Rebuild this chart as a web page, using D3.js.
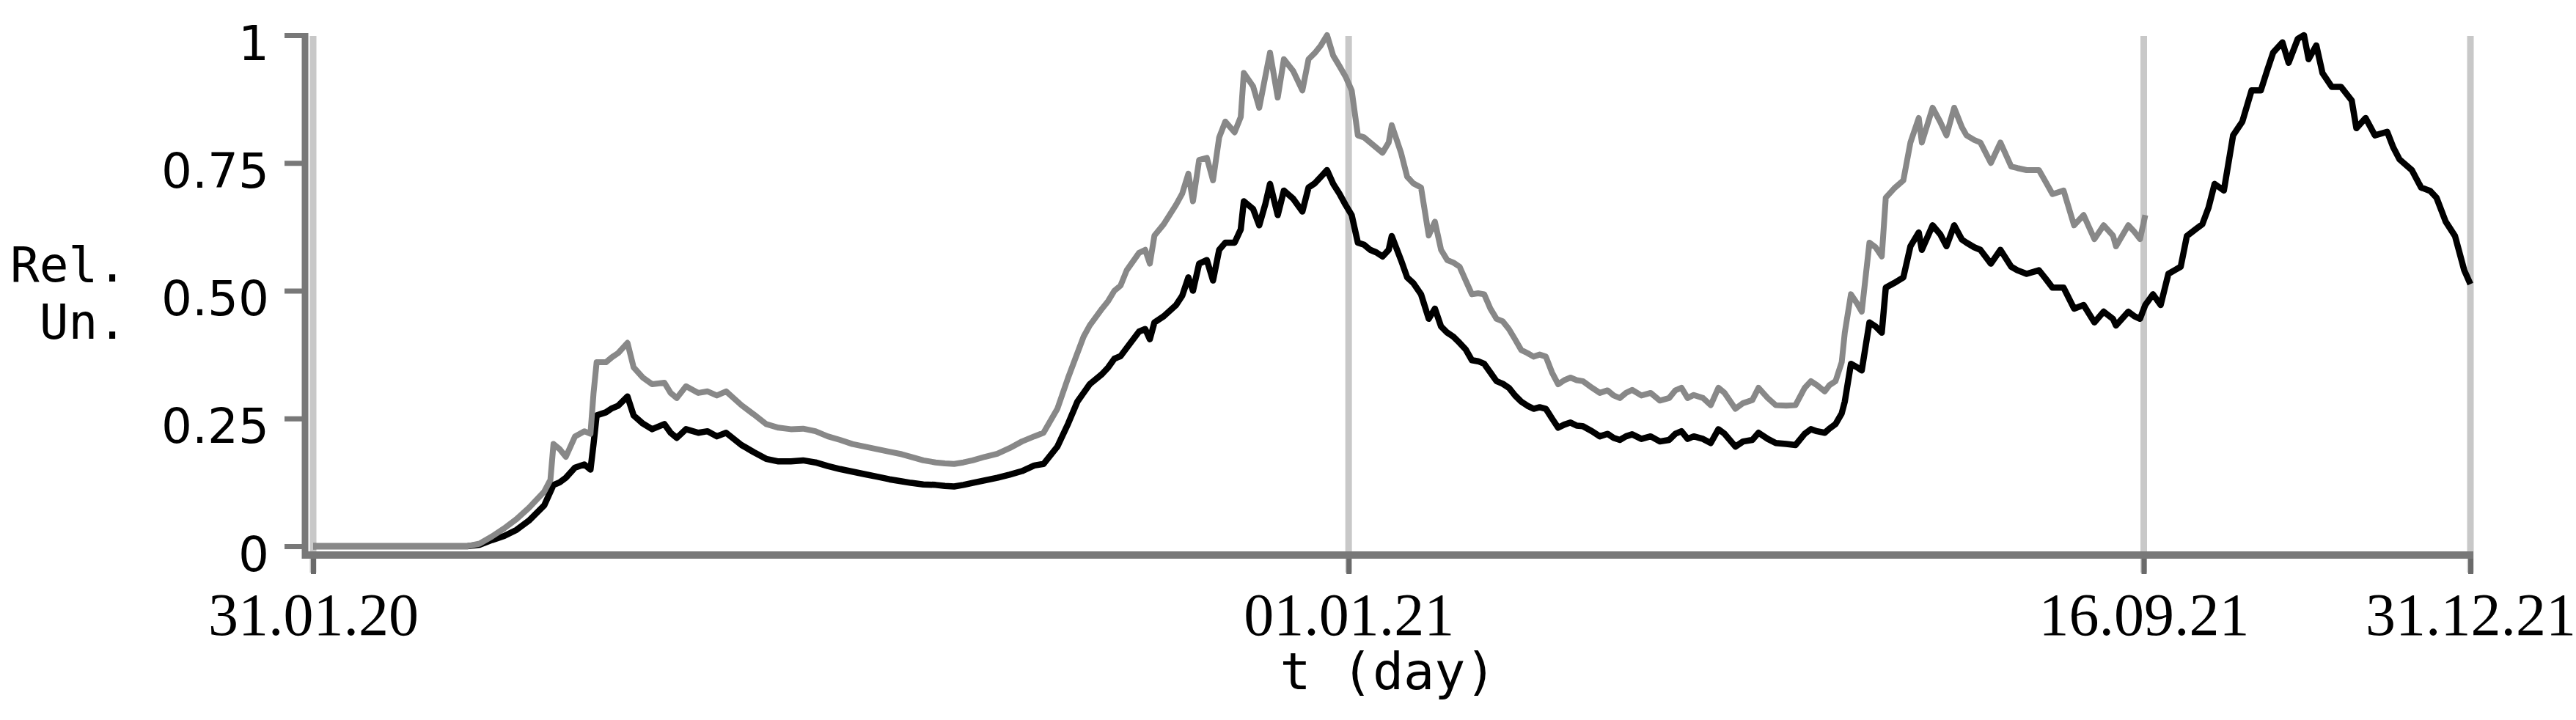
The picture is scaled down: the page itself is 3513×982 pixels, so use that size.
<!DOCTYPE html>
<html>
<head>
<meta charset="utf-8">
<script src="https://cdn.jsdelivr.net/npm/d3@7"></script>
<style>
body { margin:0; background:#fff; }
</style>
</head>
<body>
<svg id="chart" width="3513" height="982"></svg>
<script>
// days counted from 31.01.20
var blackDays = [0,30,50,54,58,62,66,70,75,78,80,82,85,88,90,91,92,95,97,99,102,104,107,110,114,116,118,121,125,128,131,134,139,143,147,151,155,159,163,167,171,175,179,183,187,191,194,198,202,205,208,211,214,218,222,226,230,234,237,241.5,245,248,250,252,256,258,260,262,264,268,270,271.5,273,276,280,282,284,285.5,287.5,290,292,294,296,299,301,302,305,307,309,310.5,313,315,318,321,323,325,327,329,331,333,335,337,339,341,343,345,347,349,350,353,355,357,359.5,362,364,366,368,370,372,374,376,378,380,382,384,386,388,390,392,394,396,398,400,402,404,406,408,410,412,415,417.5,420,422,424,426,428,431,434,437,440,442,444,446,448,451,453.5,456,458,461.5,464,467,469,472,474.6,478,481,484,486,488,490.5,492,494,496,497,499,501,502.5,505,507,509,510.3,513,516,518.3,521,522,525.5,528,530,532.5,535,536.5,539,541,544.4,547.5,551,553,556,560,562,564.4,568,571.4,574.5,578,581,584,585,589,591,592.8,594.5,597,599.5,602,604,606,608,611,613,615,617,620,623,626,629,632,634,636,639,641,644,646,647.5,650,652,655,658,661.5,663,666,669,673,675,677,681,684,687,689,692,695,698,700];
var blackVals = [0,0,0,0.003,0.012,0.02,0.032,0.05,0.08,0.12,0.125,0.134,0.154,0.16,0.15,0.2,0.256,0.262,0.27,0.275,0.293,0.256,0.24,0.229,0.239,0.222,0.212,0.229,0.222,0.225,0.215,0.222,0.198,0.184,0.171,0.166,0.166,0.168,0.164,0.157,0.151,0.146,0.141,0.136,0.131,0.127,0.124,0.121,0.12,0.118,0.117,0.12,0.124,0.129,0.134,0.14,0.147,0.158,0.161,0.195,0.24,0.283,0.3,0.317,0.337,0.35,0.367,0.372,0.388,0.42,0.425,0.405,0.438,0.45,0.472,0.49,0.526,0.5,0.553,0.56,0.52,0.58,0.594,0.594,0.62,0.675,0.66,0.628,0.67,0.709,0.648,0.696,0.68,0.655,0.702,0.71,0.723,0.736,0.709,0.69,0.668,0.648,0.594,0.59,0.58,0.575,0.567,0.58,0.607,0.56,0.526,0.515,0.493,0.445,0.465,0.43,0.418,0.41,0.398,0.385,0.364,0.362,0.357,0.34,0.323,0.318,0.31,0.295,0.283,0.275,0.269,0.272,0.269,0.25,0.232,0.238,0.242,0.236,0.235,0.225,0.215,0.22,0.212,0.208,0.215,0.219,0.21,0.215,0.205,0.208,0.22,0.225,0.21,0.215,0.21,0.202,0.229,0.22,0.195,0.205,0.208,0.222,0.21,0.202,0.2,0.198,0.22,0.229,0.225,0.222,0.23,0.239,0.26,0.283,0.357,0.35,0.344,0.438,0.43,0.418,0.506,0.515,0.526,0.587,0.614,0.58,0.628,0.61,0.587,0.628,0.6,0.594,0.585,0.58,0.553,0.58,0.547,0.54,0.533,0.54,0.525,0.506,0.506,0.465,0.472,0.438,0.459,0.445,0.432,0.459,0.45,0.445,0.472,0.493,0.472,0.533,0.54,0.547,0.607,0.621,0.63,0.662,0.709,0.696,0.804,0.831,0.892,0.892,0.93,0.966,0.986,0.946,0.993,1.0,0.953,0.98,0.926,0.899,0.899,0.872,0.818,0.838,0.804,0.811,0.78,0.757,0.736,0.702,0.695,0.682,0.635,0.607,0.54,0.513];

var grayDays = [0,30,50,54,58,62,66,70,75,77,78,80,82,85,88,90,91,92,95,97,99,102,104,107,110,114,116,118,121,125,128,131,134,139,143,147,151,155,159,163,167,171,175,179,183,187,191,194,198,202,205,208,211,214,218,222,226,230,234,237,241.5,245,248,250,252,256,258,260,262,264,268,270,271.5,273,276,280,282,284,285.5,287.5,290,292,294,296,299,301,302,305,307,309,310.5,313,315,318,321,323,325,327,329,331,333,335,337,339,341,343,345,347,349,350,353,355,357,359.5,362,364,366,368,370,372,374,376,378,380,382,384,386,388,390,392,394,396,398,400,402,404,406,408,410,412,415,417.5,420,422,424,426,428,431,434,437,440,442,444,446,448,451,453.5,456,458,461.5,464,467,469,472,474.6,478,481,484,486,488,490.5,492,494,496,497,499,501,502.5,505,507,509,510.3,513,516,518.3,521,522,525.5,528,530,532.5,535,536.5,539,541,544.4,547.5,551,553,556,560,562,564.4,568,571.4,574.5,578,581,584,585,589,591,592.8,594.5];
var grayVals = [0,0,0,0.005,0.019,0.035,0.053,0.075,0.107,0.13,0.2,0.19,0.175,0.215,0.225,0.22,0.3,0.36,0.36,0.37,0.378,0.398,0.35,0.33,0.317,0.32,0.3,0.29,0.313,0.3,0.303,0.295,0.303,0.276,0.258,0.239,0.232,0.229,0.23,0.225,0.215,0.208,0.2,0.195,0.19,0.185,0.18,0.175,0.168,0.164,0.162,0.161,0.164,0.168,0.175,0.181,0.192,0.205,0.215,0.222,0.269,0.33,0.378,0.41,0.432,0.465,0.48,0.5,0.51,0.54,0.574,0.58,0.553,0.608,0.63,0.668,0.69,0.729,0.675,0.756,0.76,0.716,0.8,0.831,0.81,0.84,0.926,0.9,0.858,0.92,0.966,0.878,0.953,0.93,0.892,0.953,0.965,0.98,1.0,0.96,0.94,0.919,0.892,0.804,0.8,0.79,0.78,0.77,0.79,0.824,0.77,0.723,0.71,0.702,0.608,0.635,0.58,0.56,0.555,0.547,0.52,0.493,0.495,0.493,0.465,0.445,0.44,0.425,0.405,0.384,0.378,0.371,0.375,0.371,0.34,0.317,0.325,0.33,0.325,0.323,0.31,0.3,0.305,0.295,0.29,0.3,0.306,0.295,0.3,0.285,0.29,0.305,0.31,0.29,0.296,0.29,0.276,0.31,0.3,0.269,0.28,0.286,0.31,0.29,0.276,0.275,0.276,0.31,0.323,0.315,0.303,0.315,0.323,0.36,0.418,0.493,0.475,0.459,0.594,0.585,0.567,0.682,0.7,0.716,0.79,0.838,0.79,0.858,0.83,0.804,0.858,0.82,0.804,0.795,0.79,0.75,0.79,0.743,0.74,0.736,0.736,0.715,0.689,0.696,0.628,0.648,0.601,0.628,0.608,0.587,0.628,0.615,0.601,0.648];

var xTickDays = [0,336,594,700];
var xTickLabels = ["31.01.20","01.01.21","16.09.21","31.12.21"];
var yTickVals = [0,0.25,0.5,0.75,1];
var yTickLabels = ["0","0.25","0.50","0.75","1"];

var AXIS="#787878";
var GRIDC="#c8c8c8";

var svg = d3.select("#chart");

var x = d3.scaleLinear().domain([0,700]).range([427,3369]);
var y = d3.scaleLinear().domain([0,1]).range([745,48]);

var AXIS_X = 416, AXIS_Y = 757;

// light grid lines at the marked dates
svg.append("g")
    .selectAll("line")
    .data(xTickDays)
    .enter().append("line")
    .attr("x1", function(d){ return x(d); })
    .attr("x2", function(d){ return x(d); })
    .attr("y1", 49)
    .attr("y2", AXIS_Y+24)
    .attr("stroke", GRIDC)
    .attr("stroke-width", 9);

// x axis
var xAxis = d3.axisBottom(x)
    .tickValues(xTickDays)
    .tickFormat(function(d,i){ return xTickLabels[i]; })
    .tickSize(26)
    .tickPadding(0);

var gx = svg.append("g")
    .attr("transform", "translate(0," + AXIS_Y + ")")
    .call(xAxis);
gx.select(".domain").remove();
gx.selectAll(".tick line")
    .attr("stroke", "#6a6a6a")
    .attr("stroke-width", 7);
gx.selectAll(".tick text")
    .attr("y", 109)
    .attr("dy", 0)
    .attr("fill", "#000")
    .style("font-family", "'Liberation Serif', serif")
    .style("font-size", "82px");

svg.append("line")
    .attr("x1", AXIS_X-4)
    .attr("x2", x(700)+4)
    .attr("y1", AXIS_Y)
    .attr("y2", AXIS_Y)
    .attr("stroke", AXIS)
    .attr("stroke-width", 10);

// y axis
var yAxis = d3.axisLeft(y)
    .tickValues(yTickVals)
    .tickFormat(function(d,i){ return yTickLabels[i]; })
    .tickSize(28)
    .tickPadding(21);

var gy = svg.append("g")
    .attr("transform", "translate(" + AXIS_X + ",0)")
    .call(yAxis);
gy.select(".domain").remove();
gy.selectAll(".tick line")
    .attr("stroke", AXIS)
    .attr("stroke-width", 7);
gy.selectAll(".tick text")
    .attr("dy", "0.5em")
    .attr("fill", "#000")
    .style("font-family", "'DejaVu Sans', sans-serif")
    .style("font-size", "66px");

svg.append("line")
    .attr("x1", AXIS_X)
    .attr("x2", AXIS_X)
    .attr("y1", y(1)-3)
    .attr("y2", AXIS_Y+5)
    .attr("stroke", AXIS)
    .attr("stroke-width", 9);

// axis titles
var ylab = svg.append("text")
    .attr("text-anchor", "end")
    .attr("fill", "#000")
    .style("font-family", "'DejaVu Sans Mono', monospace")
    .style("font-size", "66px");
ylab.append("tspan").attr("x", 173).attr("y", 384).text("Rel.");
ylab.append("tspan").attr("x", 173).attr("y", 462).text("Un.");

svg.append("text")
    .attr("x", 1893)
    .attr("y", 940)
    .attr("text-anchor", "middle")
    .attr("fill", "#000")
    .style("font-family", "'DejaVu Sans Mono', monospace")
    .style("font-size", "70px")
    .text("t (day)");

// series
var black = blackDays.map(function(d,i){ return [d, blackVals[i]]; });
var gray = grayDays.map(function(d,i){ return [d, grayVals[i]]; });

var line = d3.line()
    .x(function(d){ return x(d[0]); })
    .y(function(d){ return y(d[1]); });

svg.append("path")
    .datum(black)
    .attr("d", line)
    .attr("fill", "none")
    .attr("stroke", "#000")
    .attr("stroke-width", 8.5)
    .attr("stroke-linejoin", "round");

svg.append("path")
    .datum(gray)
    .attr("d", line)
    .attr("fill", "none")
    .attr("stroke", "#888")
    .attr("stroke-width", 8)
    .attr("stroke-linejoin", "round");
</script>
</body>
</html>
